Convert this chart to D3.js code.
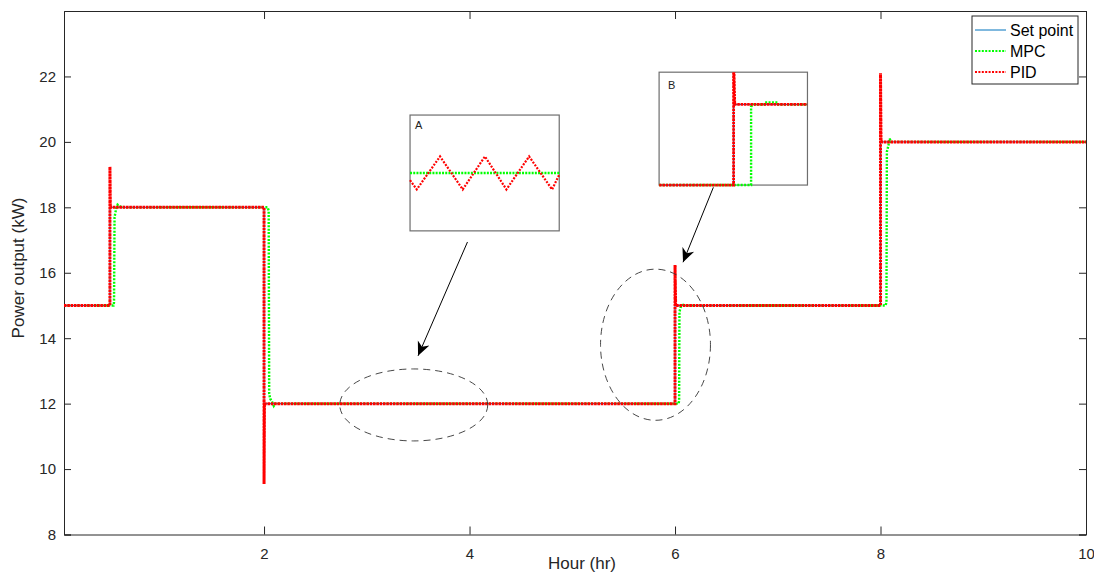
<!DOCTYPE html>
<html><head><meta charset="utf-8">
<script src="https://cdn.jsdelivr.net/npm/d3@7"></script>
<style>
html,body{margin:0;padding:0;background:#fff;}
text{font-family:Arial,"Liberation Sans",sans-serif;}
</style></head>
<body><svg id="c" width="1094" height="575"></svg>
<script>
// ---- data ----
const xTicks = [2, 4, 6, 8, 10];
const yTicks = [8, 10, 12, 14, 16, 18, 20, 22];
const xDomain = [0.053, 10];
const yDomain = [8, 24];

const setTime  = [0.053, 0.5, 0.5, 2, 2, 6, 6, 8, 8, 10];
const setValue = [15, 15, 18, 18, 12, 12, 15, 15, 20, 20];

const pidTime  = [0.053, 0.5, 0.5, 0.504, 2, 2, 2.004, 6, 6, 6.006, 8, 8, 8.005, 10];
const pidValue = [15, 15, 19.24, 18, 18, 9.54, 12, 12, 16.24, 15, 15, 22.1, 20, 20];

const mpcTime  = [0.053, 0.535, 0.54, 0.545, 0.56, 0.575, 0.6, 0.65, 2.035, 2.045, 2.05, 2.06, 2.075, 2.095, 2.11, 6.035, 6.04, 6.043, 6.055, 6.08, 6.1, 8.05, 8.058, 8.062, 8.075, 8.09, 8.1, 10];
const mpcValue = [15, 15, 15.1, 17.7, 17.95, 18.08, 18.02, 18, 18, 17.9, 12.3, 12.15, 12.08, 11.93, 12, 12, 12.1, 14.8, 14.95, 15.02, 15, 15, 15.1, 19.7, 19.86, 20.1, 20, 20];

// inset A (zoom of steady state near t=3.5 h), normalised inset units
const insetAU   = [0, 4.5, 20.1, 35.3, 50.2, 64.6, 79.8, 95.2, 100];
const insetAPid = [11.975, 11.943, 12.057, 11.943, 12.057, 11.943, 12.057, 11.943, 11.994];
const insetAMpcU = [0, 100];
const insetAMpc  = [12, 12];

// inset B (zoom of step at t=6 h), normalised inset units
const insetBSetU = [0, 0.502, 0.502, 1];
const insetBSet  = [0, 0, 0.714, 0.714];
const insetBPidU = [0, 0.502, 0.502, 0.51, 1];
const insetBPid  = [0, 0, 1.2, 0.714, 0.714];
const insetBMpcU = [0, 0.62, 0.62, 0.64, 0.71, 0.712, 0.80, 0.803, 1];
const insetBMpc  = [0, 0, 0.696, 0.714, 0.714, 0.732, 0.732, 0.714, 0.714];

// annotation anchors (data units)
const insetABox = [3.421, 4.873, 17.28, 20.82];
const insetBBox = [5.845, 7.289, 18.68, 22.13];
const ellipses = [ {cx: 3.457, cy: 11.96, rx: 0.72, ry: 1.10}, {cx: 5.81, cy: 13.80, rx: 0.535, ry: 2.31} ];
const arrows = [ {x1: 3.98, y1: 16.94, x2: 3.499, y2: 13.46}, {x1: 6.373, y1: 18.61, x2: 6.078, y2: 16.32} ];

const legendNames = ["Set point", "MPC", "PID"];

// ---- layout ----
const L = 64, R = 1086, T = 11, B = 534.5;
const svg = d3.select("#c");
const x = d3.scaleLinear().domain(xDomain).range([L, R]);
const y = d3.scaleLinear().domain(yDomain).range([B, T]);
const axisCol = "#262626";
const colSet = "#0072BD", colMpc = "#00ff00", colPid = "#ff0000";

svg.append("defs").append("marker").attr("id","ah").attr("viewBox","0 0 10 10")
  .attr("refX",10).attr("refY",5).attr("markerWidth",14).attr("markerHeight",14)
  .attr("markerUnits","userSpaceOnUse").attr("orient","auto")
  .append("path").attr("d","M0,0.5 L10,5 L0,9.5 L3,5 Z").attr("fill","#000");

// axes box with mirrored ticks
const gx = svg.append("g").attr("transform",`translate(0,${B})`)
  .call(d3.axisBottom(x).tickValues(xTicks).tickSize(-8).tickPadding(14).tickFormat(d3.format("d")));
const gxt = svg.append("g").attr("transform",`translate(0,${T})`)
  .call(d3.axisTop(x).tickValues(xTicks).tickSize(-8).tickFormat(""));
const gy = svg.append("g").attr("transform",`translate(${L},0)`)
  .call(d3.axisLeft(y).tickValues(yTicks).tickSize(-7).tickPadding(8).tickFormat(d3.format("d")));
const gyr = svg.append("g").attr("transform",`translate(${R},0)`)
  .call(d3.axisRight(y).tickValues(yTicks).tickSize(-7).tickFormat(""));
[gx,gxt,gy,gyr].forEach(g=>{
  g.select(".domain").attr("stroke",axisCol).attr("stroke-width",1);
  g.selectAll(".tick line").attr("stroke",axisCol);
  g.selectAll(".tick text").attr("fill",axisCol).style("font-size","15px").style("font-family","Arial, 'Liberation Sans', sans-serif");
});

svg.append("text").attr("x",(L+R)/2+7).attr("y",569).attr("text-anchor","middle")
  .attr("fill",axisCol).style("font-size","17px").text("Hour (hr)");
svg.append("text").attr("transform",`translate(24,268) rotate(-90)`).attr("text-anchor","middle")
  .attr("fill",axisCol).style("font-size","17px").text("Power output (kW)");

// clip
svg.append("clipPath").attr("id","pc").append("rect").attr("x",L).attr("y",T).attr("width",R-L).attr("height",B-T);
const plot = svg.append("g").attr("clip-path","url(#pc)");

const line = d3.line().x(d=>x(d[0])).y(d=>y(d[1]));
const zip = (a,b)=>a.map((v,i)=>[v,b[i]]);

plot.append("path").attr("d",line(zip(setTime,setValue))).attr("fill","none").attr("stroke",colSet).attr("stroke-width",1);
plot.append("path").attr("d",line(zip(mpcTime,mpcValue))).attr("fill","none").attr("stroke",colMpc).attr("stroke-width",2.4).attr("stroke-dasharray","2,1.4");
plot.append("path").attr("d",line(zip(pidTime,pidValue))).attr("fill","none").attr("stroke",colPid).attr("stroke-width",3).attr("stroke-dasharray","2.6,0.7");

// ellipses
plot.selectAll("ellipse.e").data(ellipses).join("ellipse")
  .attr("cx",d=>x(d.cx)).attr("cy",d=>y(d.cy))
  .attr("rx",d=>x(d.cx+d.rx)-x(d.cx)).attr("ry",d=>y(d.cy-d.ry)-y(d.cy))
  .attr("fill","none").attr("stroke","#333").attr("stroke-width",0.9).attr("stroke-dasharray","7,5");

// arrows
svg.selectAll("line.arr").data(arrows).join("line").attr("class","arr")
  .attr("x1",d=>x(d.x1)).attr("y1",d=>y(d.y1)).attr("x2",d=>x(d.x2)).attr("y2",d=>y(d.y2))
  .attr("stroke","#000").attr("stroke-width",1).attr("marker-end","url(#ah)");

// inset A
{
  const [a0,a1,b0,b1] = insetABox;
  const ix = d3.scaleLinear().domain([0,100]).range([x(a0),x(a1)]);
  const iy = d3.scaleLinear().domain([11.8,12.2]).range([y(b0),y(b1)]);
  const g = svg.append("g");
  g.append("rect").attr("x",x(a0)).attr("y",y(b1)).attr("width",x(a1)-x(a0)).attr("height",y(b0)-y(b1))
    .attr("fill","#fff").attr("stroke","#6e6e6e").attr("stroke-width",1.2);
  const il = d3.line().x(d=>ix(d[0])).y(d=>iy(d[1]));
  g.append("path").attr("d",il(zip(insetAMpcU,insetAMpc))).attr("fill","none").attr("stroke",colMpc).attr("stroke-width",2.4).attr("stroke-dasharray","2,1.2");
  g.append("path").attr("d",il(zip(insetAU,insetAPid))).attr("fill","none").attr("stroke",colPid).attr("stroke-width",2.2).attr("stroke-dasharray","2,1.4");
  g.append("text").attr("x",x(a0)+5).attr("y",y(b1)+14).style("font-size","11px").attr("fill","#222").text("A");
}
// inset B
{
  const [a0,a1,b0,b1] = insetBBox;
  const ix = d3.scaleLinear().domain([0,1]).range([x(a0),x(a1)]);
  const iy = d3.scaleLinear().domain([0,1]).range([y(b0),y(b1)]);
  const g = svg.append("g");
  g.append("rect").attr("x",x(a0)).attr("y",y(b1)).attr("width",x(a1)-x(a0)).attr("height",y(b0)-y(b1))
    .attr("fill","#fff").attr("stroke","#6e6e6e").attr("stroke-width",1.2);
  g.append("clipPath").attr("id","bc").append("rect").attr("x",x(a0)).attr("y",y(b1)).attr("width",x(a1)-x(a0)).attr("height",y(b0)-y(b1)+2);
  const gg = g.append("g").attr("clip-path","url(#bc)");
  const il = d3.line().x(d=>ix(d[0])).y(d=>iy(d[1]));
  gg.append("path").attr("d",il(zip(insetBSetU,insetBSet))).attr("fill","none").attr("stroke",colSet).attr("stroke-width",1);
  gg.append("path").attr("d",il(zip(insetBMpcU,insetBMpc))).attr("fill","none").attr("stroke",colMpc).attr("stroke-width",2.4).attr("stroke-dasharray","2,1.4");
  gg.append("path").attr("d",il(zip(insetBPidU,insetBPid))).attr("fill","none").attr("stroke",colPid).attr("stroke-width",2.8).attr("stroke-dasharray","2.6,0.7");
  g.append("text").attr("x",x(a0)+9).attr("y",y(b1)+17).style("font-size","11px").attr("fill","#222").text("B");
}

// legend
{
  const lg = svg.append("g");
  lg.append("rect").attr("x",972).attr("y",16).attr("width",106).attr("height",68)
    .attr("fill","#fff").attr("stroke","#262626").attr("stroke-width",1);
  const cols = [colSet, colMpc, colPid];
  const dash = [null, "2,1.4", "2,1.4"];
  const sw = [1, 2.2, 2.2];
  legendNames.forEach((n,i)=>{
    const yy = 30 + i*21;
    lg.append("line").attr("x1",975).attr("x2",1006).attr("y1",yy).attr("y2",yy)
      .attr("stroke",cols[i]).attr("stroke-width",sw[i]).attr("stroke-dasharray",dash[i]);
    lg.append("text").attr("x",1010).attr("y",yy+5.5).style("font-size","16px").attr("fill","#000").text(n);
  });
}
</script></body></html>
